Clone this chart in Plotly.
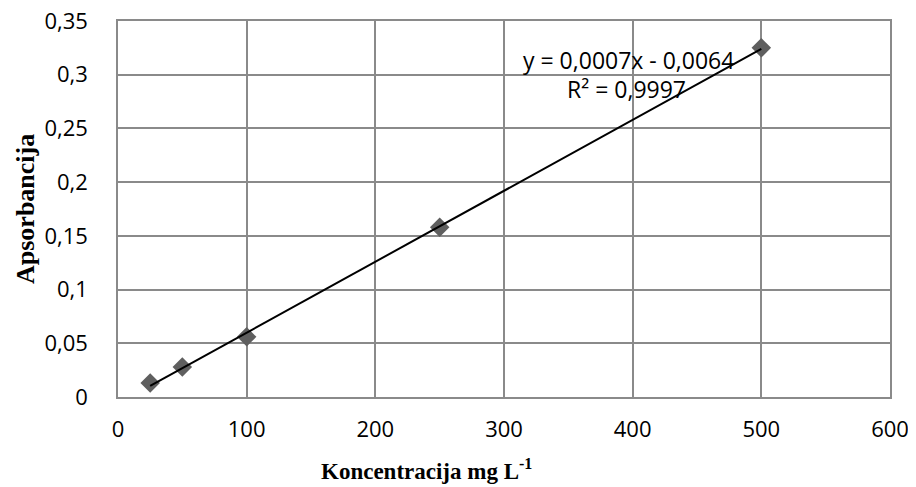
import numpy as np
import plotly.graph_objects as go

conc = [25, 50, 100, 250, 500]
absorb = [0.013, 0.028, 0.056, 0.158, 0.325]
x_ticks = [0, 100, 200, 300, 400, 500, 600]
y_ticks = [0, 0.05, 0.1, 0.15, 0.2, 0.25, 0.3, 0.35]
y_tick_text = ["0", "0,05", "0,1", "0,15", "0,2", "0,25", "0,3", "0,35"]
eq_text = "y = 0,0007x - 0,0064"
r2_text = "R² = 0,9997"

slope, intercept = np.polyfit(conc, absorb, 1)
fit_x = [min(conc), max(conc)]
fit_y = [slope * v + intercept for v in fit_x]

OFF = 8  # page body margin
W, H = 916 - OFF, 487 - OFF
L, R, T, B = 118 - OFF, 890 - OFF, 21 - OFF, 397 - OFF
pw, ph = R - L, B - T

def px(xp):
    return (xp - OFF - L) / pw

def py(yp):
    return (B - (yp - OFF)) / ph

grid = "#8a8a8a"
fig = go.Figure()
fig.add_trace(go.Scatter(x=conc, y=absorb, mode="markers",
                         marker=dict(symbol="diamond", size=15, color="#5f5f5f"),
                         showlegend=False))
fig.add_trace(go.Scatter(x=fit_x, y=fit_y, mode="lines",
                         line=dict(color="black", width=2), showlegend=False))

fig.update_layout(
    width=W, height=H,
    margin=dict(l=L, r=W - R, t=T, b=H - B),
    plot_bgcolor="white", paper_bgcolor="white",
    font=dict(family="Open Sans", size=22, color="black"),
    xaxis=dict(range=[0, 600], tickvals=x_ticks, showgrid=True, gridcolor=grid, gridwidth=1.5,
               showline=True, linecolor=grid, linewidth=1.5, mirror=True, zeroline=False,
               ticks="", ticklabelstandoff=12, automargin=False, ticklabeloverflow="allow"),
    yaxis=dict(range=[0, 0.35], tickvals=y_ticks, ticktext=y_tick_text, showgrid=True,
               gridcolor=grid, gridwidth=1.5, showline=True, linecolor=grid, linewidth=1.5,
               mirror=True, zeroline=False, ticks="", ticklabelstandoff=24, automargin=False,
               ticklabeloverflow="allow"),
)
common = dict(xref="paper", yref="paper", showarrow=False, xanchor="center", yanchor="middle")
fig.add_annotation(x=px(628), y=py(60), text=eq_text, font=dict(size=23), **common)
fig.add_annotation(x=px(626), y=py(89), text=r2_text, font=dict(size=23), **common)
fig.add_annotation(x=px(426), y=py(470), text="<b>Koncentracija mg L<sup>-1</sup></b>",
                   font=dict(family="Liberation Serif", size=23), **common)
fig.add_annotation(x=px(25), y=py(209), textangle=-90, text="<b>Apsorbancija</b>",
                   font=dict(family="Liberation Serif", size=26), **common)
fig.write_html("out.html")
